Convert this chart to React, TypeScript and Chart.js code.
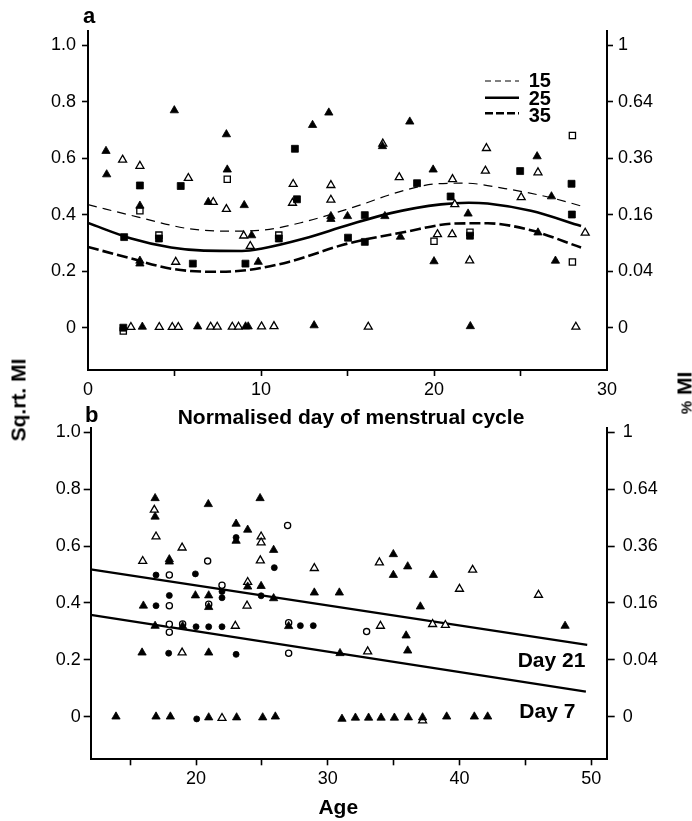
import React, { useEffect, useRef } from "react";
import { Chart, registerables } from "chart.js";

Chart.register(...registerables);

const FONT = "'Liberation Sans', Arial, Helvetica, sans-serif";

type Pt = [number, number];

// ---------- shared y ticks ----------
const yTicks = [0, 0.2, 0.4, 0.6, 0.8, 1.0];
const yTickLabelsLeft = ["0", "0.2", "0.4", "0.6", "0.8", "1.0"];
const yTickLabelsRight = ["0", "0.04", "0.16", "0.36", "0.64", "1"];

// ---------- panel a ----------
const aXTicks = [0, 5, 10, 15, 20, 25, 30];
const aXTickLabels = ["0", "", "10", "", "20", "", "30"];

const aFilledTriangles: Pt[] = [
  [1.04, 0.626], [1.08, 0.543], [4.99, 0.77], [8.0, 0.685], [8.05, 0.56], [12.98, 0.718],
  [13.92, 0.762], [18.6, 0.73], [17.02, 0.643], [19.95, 0.56], [25.96, 0.607], [26.79, 0.465],
  [26.01, 0.337], [3.0, 0.432], [6.95, 0.445], [9.03, 0.434], [14.04, 0.395], [14.04, 0.385],
  [15.0, 0.395], [17.16, 0.395], [21.97, 0.404], [9.46, 0.327], [18.06, 0.322], [3.0, 0.237],
  [3.0, 0.227], [9.84, 0.233], [20.0, 0.235], [27.02, 0.237],
  [3.14, 0.003], [6.34, 0.004], [9.11, 0.004], [9.26, 0.004], [13.07, 0.008], [22.1, 0.005],
];
const aOpenTriangles: Pt[] = [
  [2.0, 0.595], [3.0, 0.573], [5.8, 0.53], [11.86, 0.509], [14.04, 0.505], [14.04, 0.453],
  [11.82, 0.442], [7.24, 0.445], [8.0, 0.42], [17.04, 0.652], [17.99, 0.533], [21.07, 0.526],
  [21.2, 0.437], [23.03, 0.636], [22.97, 0.556], [26.01, 0.55], [25.04, 0.462], [28.74, 0.336],
  [20.2, 0.331], [21.05, 0.331], [9.0, 0.326], [9.38, 0.289], [5.07, 0.233], [22.06, 0.238],
  [2.48, 0.002], [4.12, 0.002], [4.87, 0.002], [5.22, 0.002], [7.09, 0.003], [7.47, 0.003],
  [8.34, 0.003], [8.7, 0.003], [10.03, 0.004], [10.75, 0.005], [16.2, 0.003], [28.2, 0.003],
];
const aFilledSquares: Pt[] = [
  [3.0, 0.504], [5.36, 0.502], [11.96, 0.634], [12.08, 0.455], [2.09, 0.321], [4.1, 0.316],
  [11.03, 0.316], [6.06, 0.227], [9.1, 0.227], [16.0, 0.399], [15.03, 0.319], [16.0, 0.304],
  [22.08, 0.326], [20.96, 0.465], [19.02, 0.512], [24.98, 0.555], [27.95, 0.51], [27.97, 0.401],
  [2.04, 0.0],
];
const aOpenSquares: Pt[] = [
  [8.05, 0.526], [3.0, 0.414], [20.0, 0.306], [28.0, 0.681], [28.0, 0.233], [2.04, -0.012],
  [4.1, 0.328], [11.03, 0.328], [22.08, 0.338],
];

// fitted curves (age 15, 25, 35)
const curve15: Pt[] = [
  [0, 0.436], [2.9, 0.392], [5.8, 0.351], [8.1, 0.342], [10.0, 0.345], [12.5, 0.375], [15.4, 0.428],
  [18.3, 0.487], [20.2, 0.51], [21.8, 0.512], [24.1, 0.493], [26.6, 0.463], [28.7, 0.428],
];
const curve25: Pt[] = [
  [0, 0.371], [2.5, 0.316], [4.8, 0.284], [6.7, 0.273], [8.9, 0.272], [10.0, 0.28], [12.5, 0.316],
  [15.0, 0.363], [17.5, 0.406], [20.4, 0.437], [22.0, 0.443], [23.1, 0.44], [25.6, 0.414], [28.5, 0.36],
];
const curve35: Pt[] = [
  [0, 0.286], [2.5, 0.245], [4.8, 0.209], [7.3, 0.198], [9.2, 0.204], [11.6, 0.233], [15.0, 0.298],
  [18.3, 0.339], [21.2, 0.369], [23.1, 0.37], [25.6, 0.345], [28.5, 0.284],
];
const curveLabels = ["15", "25", "35"];

// ---------- panel b ----------
const bXTicks = [15, 20, 25, 30, 35, 40, 45, 50];
const bXTickLabels = ["", "20", "", "30", "", "40", "", "50"];

const bFilledTriangles: Pt[] = [
  [16.89, 0.768], [16.89, 0.703], [17.97, 0.553], [17.97, 0.545], [20.93, 0.747], [19.95, 0.426],
  [20.96, 0.426], [23.04, 0.678], [23.04, 0.618], [23.92, 0.657], [24.86, 0.768], [23.92, 0.457],
  [24.94, 0.459], [25.89, 0.586], [25.89, 0.416], [28.98, 0.436], [30.88, 0.436], [16.0, 0.39],
  [20.96, 0.385], [34.98, 0.571], [36.07, 0.528], [34.98, 0.498], [38.02, 0.498], [37.03, 0.387],
  [16.89, 0.319], [18.98, 0.318], [27.03, 0.318], [15.9, 0.225], [20.96, 0.225], [30.93, 0.223],
  [35.95, 0.285], [48.02, 0.319], [36.07, 0.232],
  [13.92, 0], [16.96, 0], [18.05, 0], [20.96, -0.003], [23.08, -0.003], [25.06, -0.003], [26.02, 0],
  [31.08, -0.008], [32.1, -0.004], [33.1, -0.004], [34.05, -0.004], [35.06, -0.004], [36.12, -0.003],
  [37.2, -0.003], [39.03, 0], [41.13, 0], [42.14, 0],
];
const bOpenTriangles: Pt[] = [
  [15.95, 0.547], [16.83, 0.727], [16.96, 0.633], [18.94, 0.594], [24.94, 0.633], [24.94, 0.612],
  [24.88, 0.549], [23.92, 0.473], [23.87, 0.39], [28.98, 0.522], [33.92, 0.542], [41.0, 0.516],
  [40.0, 0.449], [46.0, 0.428], [22.98, 0.319], [18.94, 0.225], [34.0, 0.319], [37.96, 0.325],
  [38.93, 0.322], [33.03, 0.229], [21.97, -0.005], [37.2, -0.014],
];
const bFilledCircles: Pt[] = [
  [16.96, 0.498], [19.95, 0.502], [17.97, 0.426], [21.97, 0.44], [21.97, 0.418], [23.04, 0.63],
  [24.94, 0.425], [25.94, 0.524], [16.96, 0.39], [20.0, 0.316], [20.96, 0.316], [21.97, 0.316],
  [27.92, 0.32], [28.9, 0.32], [17.92, 0.223], [23.04, 0.219], [20.05, -0.008],
];
const bOpenCircles: Pt[] = [
  [20.88, 0.547], [17.97, 0.498], [21.97, 0.462], [26.95, 0.672], [17.97, 0.39], [20.96, 0.395],
  [17.97, 0.325], [17.97, 0.297], [18.98, 0.326], [27.03, 0.33], [27.03, 0.223], [32.95, 0.299],
];
const day21Line: Pt[] = [[12, 0.518], [49.7, 0.252]];
const day7Line: Pt[] = [[12, 0.358], [49.6, 0.088]];

// ---------- helpers ----------
const pts = (a: Pt[]) => a.map(([x, y]) => ({ x, y }));

const curveStyle: Record<string, { width: number; dash: number[] }> = {
  "15": { width: 1.2, dash: [9, 6] },
  "25": { width: 2.6, dash: [] },
  "35": { width: 2.6, dash: [11, 4] },
};

function markerDS(label: string, data: Pt[], style: string, filled: boolean, radius: number) {
  return {
    label,
    data: pts(data),
    showLine: false,
    pointStyle: style,
    pointRadius: radius,
    pointHoverRadius: radius,
    pointBackgroundColor: filled ? "#000" : "#fff",
    pointBorderColor: "#000",
    pointBorderWidth: filled ? 0.8 : 1.3,
    backgroundColor: filled ? "#000" : "#fff",
    borderColor: "#000",
  };
}

function lineDS(label: string, data: Pt[], width: number, dash: number[], smooth: boolean) {
  return {
    label,
    data: pts(data),
    showLine: true,
    borderColor: "#000",
    backgroundColor: "#000",
    borderWidth: width,
    borderDash: dash,
    pointRadius: 0,
    pointHoverRadius: 0,
    fill: false,
    cubicInterpolationMode: smooth ? "monotone" : "default",
  };
}

function labelFor(values: number[], labels: string[], v: number) {
  const i = values.findIndex((t) => Math.abs(t - v) < 1e-9);
  return i >= 0 ? labels[i] : "";
}

function yScale(position: string, labels: string[], width: number, tickLen: number, pad: number, min: number, max: number) {
  return {
    type: "linear",
    position,
    min,
    max,
    afterBuildTicks: (s: any) => {
      s.ticks = yTicks.map((v) => ({ value: v }));
    },
    afterFit: (s: any) => {
      s.width = width;
    },
    grid: { display: true, drawOnChartArea: false, drawTicks: true, tickLength: tickLen, tickWidth: 1.6, tickColor: "#000" },
    border: { display: true, color: "#000", width: 2 },
    ticks: {
      color: "#000",
      padding: pad,
      autoSkip: false,
      font: { family: FONT, size: 18 },
      callback: (v: number) => labelFor(yTicks, labels, v),
    },
  };
}

function xScale(ticks: number[], labels: string[], min: number, max: number, height: number, pad: number) {
  return {
    type: "linear",
    position: "bottom",
    min,
    max,
    afterBuildTicks: (s: any) => {
      s.ticks = ticks.map((v) => ({ value: v }));
    },
    afterFit: (s: any) => {
      s.height = height;
    },
    grid: {
      display: true,
      drawOnChartArea: false,
      drawTicks: true,
      tickLength: 6,
      tickWidth: 1.6,
      tickColor: (c: any) =>
        c.tick && (Math.abs(c.tick.value - min) < 1e-9 || Math.abs(c.tick.value - max) < 1e-9) ? "rgba(0,0,0,0)" : "#000",
    },
    border: { display: true, color: "#000", width: 2 },
    ticks: {
      color: "#000",
      padding: pad,
      autoSkip: false,
      maxRotation: 0,
      minRotation: 0,
      font: { family: FONT, size: 18 },
      callback: (v: number) => labelFor(ticks, labels, v),
    },
  };
}

const legendSamples = {
  id: "legendSamples",
  afterDatasetsDraw(chart: any) {
    const ctx = chart.ctx;
    const rowsY = [81, 97.7, 113.3];
    curveLabels.forEach((lab, i) => {
      const st = curveStyle[lab];
      ctx.save();
      ctx.strokeStyle = "#000";
      ctx.lineWidth = st.width;
      ctx.setLineDash(lab === "15" ? [6, 4] : lab === "35" ? [8, 3] : []);
      ctx.beginPath();
      ctx.moveTo(485, rowsY[i]);
      ctx.lineTo(519, rowsY[i]);
      ctx.stroke();
      ctx.restore();
    });
  },
};

function configA(): any {
  return {
    type: "scatter",
    data: {
      datasets: [
        markerDS("filled triangle", aFilledTriangles, "triangle", true, 4.8),
        markerDS("filled square", aFilledSquares, "rect", true, 4.9),
        markerDS("open triangle", aOpenTriangles, "triangle", false, 4.6),
        markerDS("open square", aOpenSquares, "rect", false, 4.4),
        lineDS("15", curve15, curveStyle["15"].width, curveStyle["15"].dash, true),
        lineDS("25", curve25, curveStyle["25"].width, curveStyle["25"].dash, true),
        lineDS("35", curve35, curveStyle["35"].width, curveStyle["35"].dash, true),
      ],
    },
    options: {
      responsive: false,
      maintainAspectRatio: false,
      animation: false,
      events: [],
      layout: { padding: { top: 31.4, left: 0, right: 0, bottom: 0 } },
      plugins: { legend: { display: false }, tooltip: { enabled: false }, title: { display: false } },
      scales: {
        x: xScale(aXTicks, aXTickLabels, 0, 30, 30, 3.2),
        y: yScale("left", yTickLabelsLeft, 88, 6, 6, -0.15, 1.05),
        y2: yScale("right", yTickLabelsRight, 85, 6, 5, -0.15, 1.05),
      },
    },
    plugins: [legendSamples],
  };
}

function configB(): any {
  return {
    type: "scatter",
    data: {
      datasets: [
        markerDS("filled triangle", bFilledTriangles, "triangle", true, 4.8),
        markerDS("filled circle", bFilledCircles, "circle", true, 3.0),
        markerDS("open triangle", bOpenTriangles, "triangle", false, 4.6),
        markerDS("open circle", bOpenCircles, "circle", false, 3.1),
        lineDS("Day 21", day21Line, 2.3, [], false),
        lineDS("Day 7", day7Line, 2.3, [], false),
      ],
    },
    options: {
      responsive: false,
      maintainAspectRatio: false,
      animation: false,
      events: [],
      layout: { padding: { top: 28, left: 0, right: 0, bottom: 0 } },
      plugins: { legend: { display: false }, tooltip: { enabled: false }, title: { display: false } },
      scales: {
        x: xScale(bXTicks, bXTickLabels, 12, 51.18, 61.7, 3),
        y: yScale("left", yTickLabelsLeft, 90.7, 7, 3, -0.15, 1.015),
        y2: yScale("right", yTickLabelsRight, 85.3, 8, 8, -0.15, 1.015),
      },
    },
  };
}

function Txt(props: {
  x: number;
  y: number;
  size?: number;
  weight?: string;
  anchor?: "left" | "center";
  rotate?: boolean;
  children: React.ReactNode;
}) {
  const { x, y, size = 21, weight = "bold", anchor = "center", rotate = false, children } = props;
  const tx = anchor === "center" ? "-50%" : "0";
  return (
    <div
      style={{
        position: "absolute",
        left: x,
        top: y,
        transform: `translate(${tx}, -50%)${rotate ? " rotate(-90deg)" : ""}`,
        fontFamily: FONT,
        fontSize: size,
        fontWeight: weight as any,
        lineHeight: 1,
        whiteSpace: "nowrap",
        color: "#000",
      }}
    >
      {children}
    </div>
  );
}

export default function App() {
  const refA = useRef<HTMLCanvasElement>(null);
  const refB = useRef<HTMLCanvasElement>(null);

  useEffect(() => {
    const a = new Chart(refA.current as HTMLCanvasElement, configA());
    const b = new Chart(refB.current as HTMLCanvasElement, configB());
    return () => {
      a.destroy();
      b.destroy();
    };
  }, []);

  return (
    <div style={{ position: "absolute", left: 0, top: 0, width: 692, height: 821, background: "#fff", overflow: "hidden" }}>
      <canvas ref={refA} width={692} height={400} style={{ position: "absolute", left: 0, top: 0, width: 692, height: 400 }} />
      <canvas ref={refB} width={692} height={421} style={{ position: "absolute", left: 0, top: 400, width: 692, height: 421 }} />

      <Txt x={83} y={16} size={22} anchor="left">a</Txt>
      <Txt x={85} y={415} size={22} anchor="left">b</Txt>

      <Txt x={528.7} y={80} size={20} anchor="left">{curveLabels[0]}</Txt>
      <Txt x={528.7} y={98} size={20} anchor="left">{curveLabels[1]}</Txt>
      <Txt x={528.7} y={115} size={20} anchor="left">{curveLabels[2]}</Txt>

      <Txt x={351} y={415.5}>Normalised day of menstrual cycle</Txt>
      <Txt x={338.3} y={806}>Age</Txt>

      <Txt x={18.3} y={400} rotate>Sq.rt. MI</Txt>
      <Txt x={683.5} y={392.5} rotate>
        <span style={{ fontSize: 15 }}>%</span> MI
      </Txt>

      <Txt x={517.7} y={659} anchor="left">Day 21</Txt>
      <Txt x={519.3} y={710} anchor="left">Day 7</Txt>
    </div>
  );
}
